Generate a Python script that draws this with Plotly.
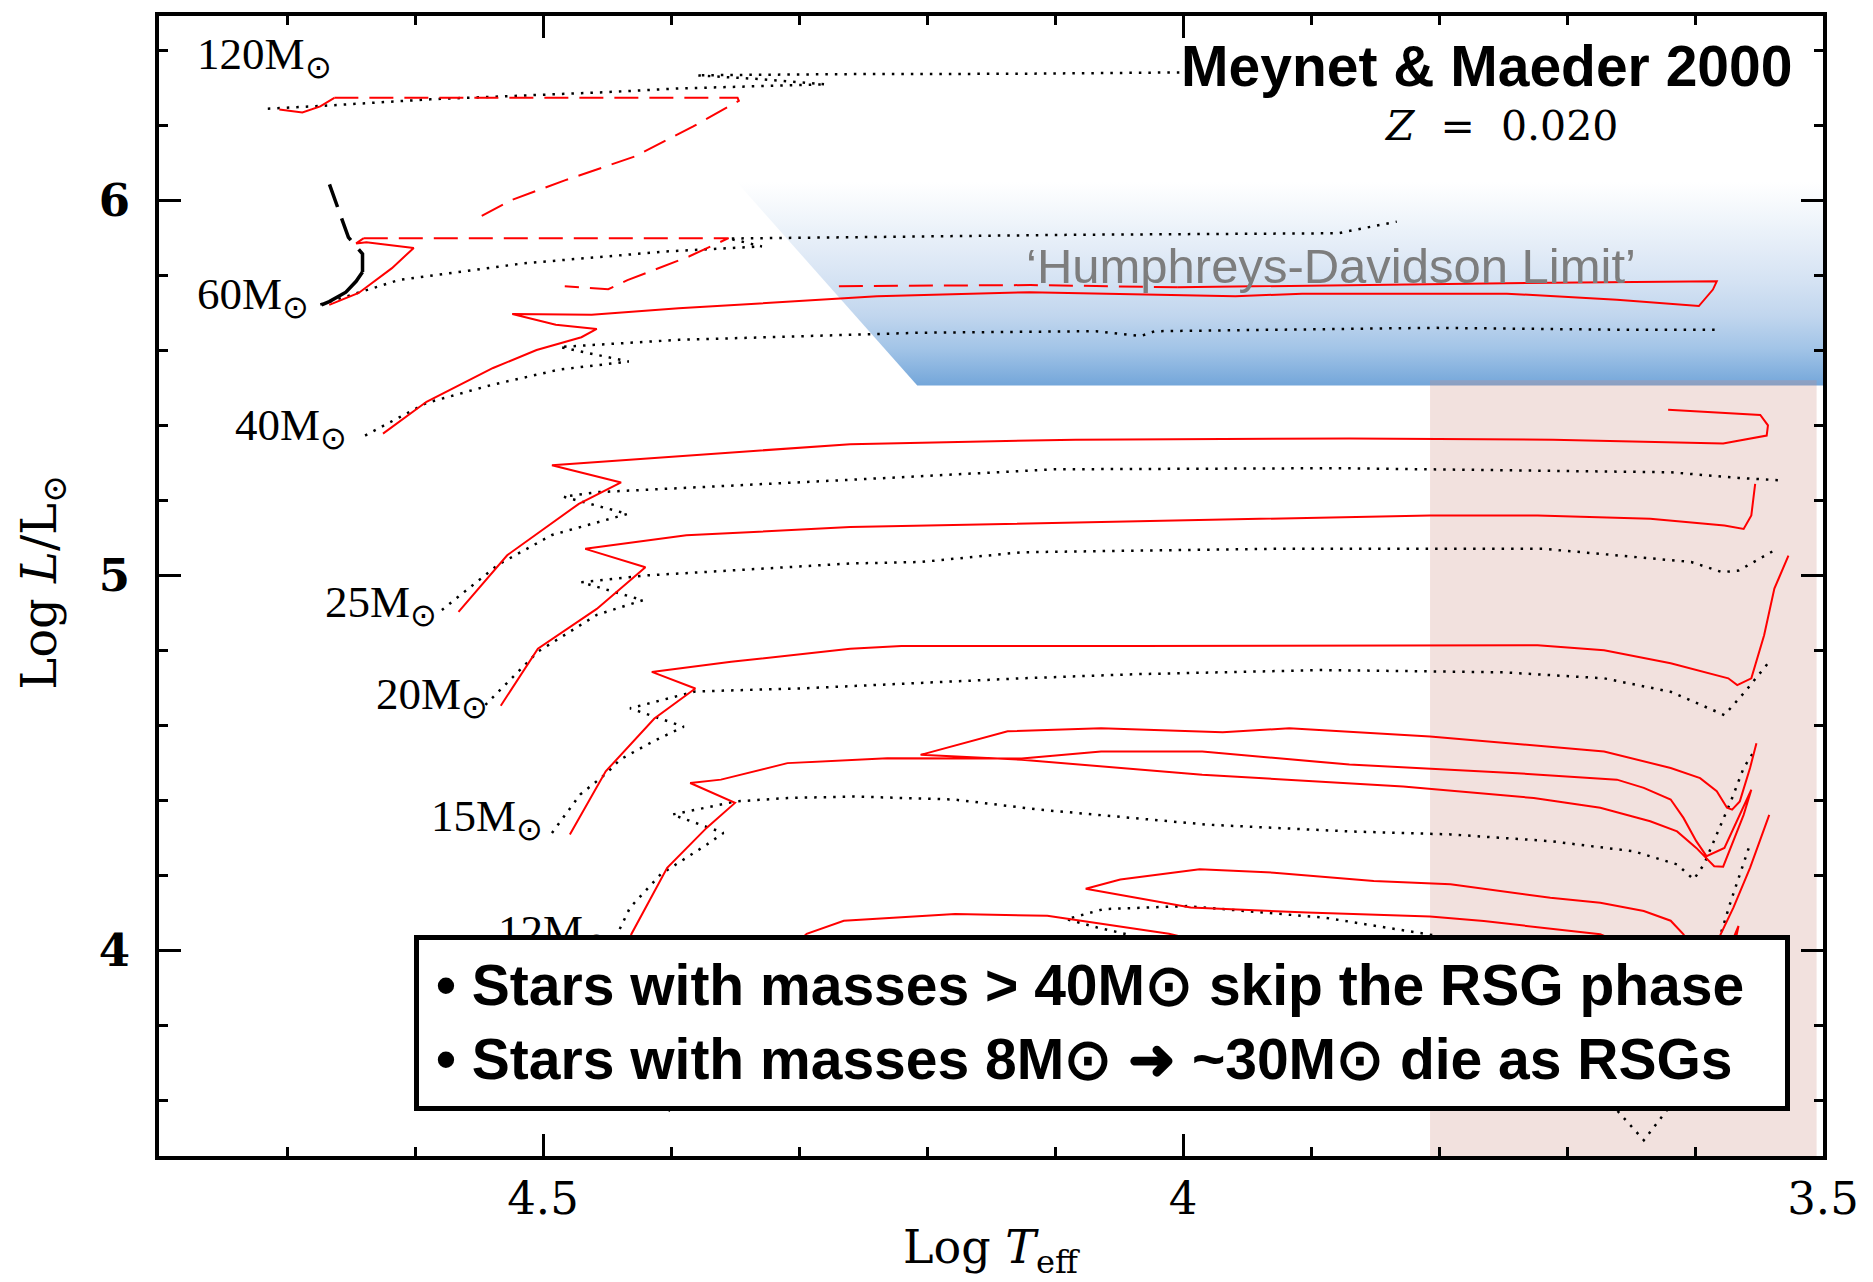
import plotly.graph_objects as go

# ---------------- data (log Teff, log L/Lsun) ----------------
# 120 Msun
t120_rot = [4.706, 4.688, 4.674, 4.663]
l120_rot = [6.242, 6.234, 6.250, 6.273]
t120_rot_wr = [4.663, 4.348, 4.347, 4.383, 4.428, 4.483, 4.525, 4.554]
l120_rot_wr = [6.273, 6.273, 6.265, 6.196, 6.117, 6.053, 6.000, 5.947]
t120_norot = [4.715, 4.665, 4.588, 4.515, 4.451, 4.394, 4.279, 4.327, 4.380, 4.271, 4.131, 3.991]
l120_norot = [6.244, 6.253, 6.269, 6.279, 6.288, 6.298, 6.309, 6.322, 6.333, 6.336, 6.337, 6.341]

# 60 Msun
t60_black = [4.673, 4.667, 4.654, 4.646, 4.641]
l60_black = [5.721, 5.730, 5.755, 5.784, 5.809]
t60_black_wr = [4.641, 4.641, 4.652, 4.658, 4.667]
l60_black_wr = [5.809, 5.857, 5.901, 5.958, 6.044]
t60_rot = [4.667, 4.644, 4.618, 4.601, 4.638, 4.646, 4.640]
l60_rot = [5.721, 5.753, 5.819, 5.873, 5.888, 5.885, 5.899]
t60_rot_wr = [4.640, 4.355, 4.386, 4.434, 4.449, 4.483]
l60_rot_wr = [5.899, 5.899, 5.850, 5.787, 5.763, 5.771]
t60_norot = [4.674, 4.612, 4.515, 4.402, 4.329, 4.355, 4.271, 4.084, 3.879, 3.833]
l60_norot = [5.722, 5.788, 5.832, 5.864, 5.877, 5.898, 5.901, 5.908, 5.912, 5.943]

# 40 Msun
t40_rot = [4.625, 4.591, 4.539, 4.505, 4.470, 4.458, 4.490, 4.524, 4.462, 4.394, 4.239,
           4.120, 3.959, 3.907, 3.747, 3.661, 3.597, 3.586, 3.583, 3.747, 4.004]
l40_rot = [5.378, 5.463, 5.553, 5.601, 5.635, 5.657, 5.668, 5.697, 5.695, 5.712, 5.744,
           5.755, 5.744, 5.751, 5.751, 5.735, 5.718, 5.762, 5.784, 5.779, 5.768]
t40_rot_wr = [4.004, 4.119, 4.274]
l40_rot_wr = [5.768, 5.774, 5.771]
t40_norot = [4.639, 4.591, 4.540, 4.487, 4.433, 4.487, 4.394, 4.205, 4.068, 4.033, 4.022,
             3.804, 3.661, 3.580]
l40_norot = [5.373, 5.460, 5.508, 5.549, 5.570, 5.609, 5.628, 5.647, 5.651, 5.638, 5.651,
             5.660, 5.655, 5.655]

# 25 Msun
t25_rot = [4.566, 4.528, 4.472, 4.439, 4.493, 4.260, 4.084, 3.870, 3.711, 3.578, 3.544,
           3.543, 3.549, 3.621]
l25_rot = [4.903, 5.054, 5.191, 5.248, 5.294, 5.350, 5.362, 5.365, 5.362, 5.352, 5.373,
           5.400, 5.428, 5.442]
t25_norot = [4.579, 4.535, 4.493, 4.434, 4.484, 4.458, 4.260, 4.100, 3.880, 3.734, 3.619,
             3.566, 3.535]
l25_norot = [4.908, 5.029, 5.108, 5.164, 5.210, 5.222, 5.255, 5.283, 5.286, 5.279, 5.275,
             5.260, 5.254]

# 20 Msun
t20_rot = [4.533, 4.504, 4.458, 4.420, 4.467, 4.388, 4.260, 4.037, 3.807, 3.723, 3.635,
           3.577, 3.562, 3.556, 3.553]
l20_rot = [4.653, 4.805, 4.911, 5.022, 5.071, 5.107, 5.129, 5.144, 5.160, 5.160, 5.151,
           5.133, 5.124, 5.160, 5.244]
t20_norot = [4.545, 4.504, 4.458, 4.422, 4.470, 4.420, 4.260, 4.205, 4.126, 3.933, 3.718,
             3.603, 3.579, 3.566, 3.538]
l20_norot = [4.655, 4.797, 4.895, 4.934, 4.982, 5.000, 5.032, 5.036, 5.062, 5.071, 5.071,
             5.036, 5.009, 5.013, 5.067]

# 15 Msun
t15_rot = [4.479, 4.451, 4.413, 4.381, 4.415, 4.353, 4.260, 4.220, 4.037, 3.723, 3.671,
           3.619, 3.574, 3.567, 3.556, 3.546, 3.538, 3.527]
l15_rot = [4.310, 4.478, 4.619, 4.699, 4.743, 4.770, 4.805, 4.812, 4.812, 4.814, 4.801,
           4.766, 4.726, 4.708, 4.726, 4.841, 4.965, 5.053]
t15_norot = [4.493, 4.471, 4.450, 4.440, 4.414, 4.390, 4.432, 4.381, 4.299, 4.126, 4.037,
             3.891, 3.750, 3.671, 3.619, 3.577, 3.561, 3.543]
l15_norot = [4.314, 4.416, 4.474, 4.509, 4.558, 4.597, 4.646, 4.691, 4.699, 4.726, 4.737,
             4.748, 4.742, 4.726, 4.690, 4.628, 4.690, 4.766]

# 12 Msun
t12_rot = [4.435, 4.431, 4.403, 4.372, 4.350, 4.385, 4.361, 4.309, 4.231, 4.126, 4.064,
           3.985, 3.870, 3.739, 3.661, 3.640, 3.619, 3.609, 3.599, 3.591, 3.577, 3.556,
           3.562, 3.570, 3.578, 3.585, 3.599, 3.614, 3.635, 3.674, 3.726, 3.828, 3.985,
           4.126, 4.205, 4.137, 4.064, 3.969, 3.917, 3.807, 3.671, 3.619, 3.596, 3.583,
           3.575, 3.571, 3.565, 3.557, 3.552]
l12_rot = [3.985, 4.044, 4.221, 4.328, 4.394, 4.447, 4.456, 4.500, 4.513, 4.512, 4.531,
           4.531, 4.496, 4.473, 4.456, 4.434, 4.403, 4.354, 4.292, 4.252, 4.274, 4.429,
           4.362, 4.292, 4.224, 4.225, 4.274, 4.318, 4.345, 4.381, 4.407, 4.438, 4.469,
           4.509, 4.522, 4.585, 4.593, 4.582, 4.593, 4.571, 4.531, 4.487, 4.460, 4.425,
           4.381, 4.376, 4.398, 4.487, 4.553]
t12_norot = [4.446, 4.442, 4.432, 4.408, 4.372, 4.359, 4.399, 4.349, 4.309, 4.257, 4.179,
             4.112, 3.981, 3.870, 3.791, 3.713, 3.648, 3.614, 3.601, 3.593, 3.583, 3.572,
             3.562, 3.554]
l12_norot = [3.985, 4.044, 4.115, 4.204, 4.283, 4.314, 4.363, 4.398, 4.407, 4.411, 4.403,
             4.376, 4.336, 4.318, 4.310, 4.292, 4.265, 4.230, 4.190, 4.230, 4.310, 4.398,
             4.487, 4.531]

# 9 Msun
t9_rot = [4.394, 4.364, 4.327, 4.308, 4.294, 4.265, 4.178, 4.106, 4.011, 3.897, 3.758,
          3.636, 3.599, 3.580, 3.572, 3.566, 3.571, 3.599, 3.674, 3.765, 3.807, 3.903,
          3.994, 4.076, 4.049, 3.987, 3.929, 3.851, 3.791, 3.713, 3.674, 3.640, 3.619,
          3.609, 3.594, 3.588, 3.580, 3.570, 3.557, 3.542]
l9_rot = [3.588, 3.763, 3.937, 4.001, 4.045, 4.080, 4.098, 4.093, 4.045, 3.953, 3.890,
          3.842, 3.795, 3.890, 4.017, 4.066, 3.985, 3.937, 4.044, 4.079, 4.091, 4.102,
          4.115, 4.165, 4.190, 4.217, 4.208, 4.186, 4.177, 4.141, 4.128, 4.106, 4.080,
          4.044, 3.953, 3.947, 4.044, 4.115, 4.221, 4.362]
t9_norot = [4.402, 4.364, 4.327, 4.289, 4.178, 3.991, 3.804, 3.661, 3.640, 3.622, 3.599,
            3.590, 3.711, 3.897, 4.028, 4.044, 4.067, 4.091, 4.062, 3.997, 3.889, 3.809,
            3.711, 3.618, 3.590, 3.580, 3.572, 3.558]
l9_norot = [3.572, 3.747, 3.906, 3.947, 3.890, 3.763, 3.668, 3.575, 3.495, 3.575, 3.763,
            3.858, 3.922, 3.985, 4.017, 4.044, 4.062, 4.084, 4.111, 4.119, 4.088, 4.044,
            3.985, 3.937, 3.985, 4.044, 4.132, 4.274]

# mass labels
mass_labels = ["120", "60", "40", "25", "20", "15", "12"]
label_t = [4.772, 4.772, 4.742, 4.672, 4.632, 4.589, 4.537]
label_l = [6.383, 5.741, 5.392, 4.922, 4.675, 4.351, 4.045]

# shaded regions
hd_t = [4.349, 3.49, 3.49, 4.2076]
hd_l = [6.05, 6.05, 5.506, 5.506]
rsg_t = [3.807, 3.505, 3.505, 3.807]
rsg_l = [3.30, 3.30, 5.520, 5.520]

x_ticks = [4.5, 4.0, 3.5]
x_ticktext = ["4.5", "4", "3.5"]
x_minor = [4.8, 4.7, 4.6, 4.4, 4.3, 4.2, 4.1, 3.9, 3.8, 3.7, 3.6]
y_ticks = [4, 5, 6]
y_ticktext = ["4", "5", "6"]
y_minor = [3.6, 3.8, 4.2, 4.4, 4.6, 4.8, 5.2, 5.4, 5.6, 5.8, 6.2, 6.4]

# ---------------- figure ----------------
fig = go.Figure()

fig.add_trace(go.Scatter(
    x=hd_t, y=hd_l, mode="lines", fill="toself", line=dict(width=0),
    fillgradient=dict(type="vertical", start=5.506, stop=6.05,
                      colorscale=[[0.0, "rgb(114,165,217)"], [0.186, "rgb(162,196,231)"],
                                  [0.347, "rgb(193,214,238)"], [0.509, "rgb(212,226,243)"],
                                  [0.673, "rgb(227,236,247)"], [0.835, "rgb(241,246,251)"],
                                  [1.0, "rgb(255,255,255)"]]),
    hoverinfo="skip", showlegend=False))
fig.add_trace(go.Scatter(
    x=rsg_t, y=rsg_l, mode="lines", fill="toself", line=dict(width=0),
    fillcolor="rgba(204,136,124,0.25)", hoverinfo="skip", showlegend=False))

RED = "rgb(255,0,0)"
dotted = dict(color="black", width=2.5, dash="2.5px,7px")
red_solid = dict(color=RED, width=2)
red_dash = dict(color=RED, width=2, dash="24px,11px")


def add(t, l, line):
    fig.add_trace(go.Scatter(x=t, y=l, mode="lines", line=line,
                             hoverinfo="skip", showlegend=False))


# non-rotating (dotted black)
for t, l in [(t120_norot, l120_norot), (t60_norot, l60_norot), (t40_norot, l40_norot),
             (t25_norot, l25_norot), (t20_norot, l20_norot), (t15_norot, l15_norot),
             (t12_norot, l12_norot), (t9_norot, l9_norot)]:
    add(t, l, dotted)

# 60 Msun black
add(t60_black, l60_black, dict(color="black", width=3.5))
add(t60_black_wr, l60_black_wr, dict(color="black", width=3.5, dash="24px,12px"))

# rotating (red)
for t, l in [(t120_rot, l120_rot), (t60_rot, l60_rot), (t40_rot, l40_rot),
             (t25_rot, l25_rot), (t20_rot, l20_rot), (t15_rot, l15_rot),
             (t12_rot, l12_rot), (t9_rot, l9_rot)]:
    add(t, l, red_solid)
for t, l in [(t120_rot_wr, l120_rot_wr), (t60_rot_wr, l60_rot_wr), (t40_rot_wr, l40_rot_wr)]:
    add(t, l, red_dash)

annotations = []
for m, tx, ly in zip(mass_labels, label_t, label_l):
    annotations.append(dict(x=tx, y=ly, xref="x", yref="y", xanchor="left", yanchor="middle",
                            text=m + "M<sub>⊙</sub>", showarrow=False,
                            font=dict(family="Liberation Serif", size=45, color="black")))

annotations.append(dict(x=0.9826, y=0.9563, xref="paper", yref="paper", xanchor="right",
                        yanchor="middle", text="Meynet &amp; Maeder 2000", showarrow=False,
                        font=dict(family="Liberation Sans", size=57, color="black", weight="bold")))
annotations.append(dict(x=0.735, y=0.9034, xref="paper", yref="paper", xanchor="left",
                        yanchor="middle", text="<i>Z</i>  =  0.020", showarrow=False,
                        font=dict(family="DejaVu Serif", size=41, color="black")))
annotations.append(dict(x=0.7043, y=0.781, xref="paper", yref="paper", xanchor="center",
                        yanchor="middle", text="‘Humphreys-Davidson Limit’", showarrow=False,
                        font=dict(family="Liberation Sans", size=49, color="rgb(125,125,125)")))
annotations.append(dict(x=0.5, y=-0.083, xref="paper", yref="paper", xanchor="center",
                        yanchor="middle", text="Log <i>T</i><sub>eff</sub>", showarrow=False,
                        font=dict(family="DejaVu Serif", size=46, color="black")))
annotations.append(dict(x=-0.0705, y=0.5035, xref="paper", yref="paper", xanchor="center",
                        yanchor="middle", text="Log <i>L</i>/L<sub>⊙</sub>", showarrow=False,
                        textangle=-90,
                        font=dict(family="DejaVu Serif", size=48, color="black")))
# box (drawn over the tracks and the 12 Msun label)
annotations.append(dict(x=0.1532, y=0.1941, xref="paper", yref="paper", xanchor="left",
                        yanchor="top", text=" ", showarrow=False, width=1366, height=166,
                        bgcolor="white", bordercolor="black", borderwidth=5, borderpad=0,
                        font=dict(size=10)))
box_font = dict(family="Liberation Sans", size=57, color="black", weight="bold")
annotations.append(dict(x=0.1653, y=0.1496, xref="paper", yref="paper", xanchor="left",
                        yanchor="middle", showarrow=False, font=box_font,
                        text="• Stars with masses &gt; 40M⊙ skip the RSG phase"))
annotations.append(dict(x=0.1653, y=0.0849, xref="paper", yref="paper", xanchor="left",
                        yanchor="middle", showarrow=False, font=box_font,
                        text="• Stars with masses 8M⊙ ➜ ~30M⊙ die as RSGs"))

axis_common = dict(showline=True, linewidth=4, linecolor="black", mirror="allticks",
                   ticks="inside", ticklen=22, tickwidth=3, tickcolor="black",
                   showgrid=False, zeroline=False)
fig.update_xaxes(range=[4.8, 3.5], tickmode="array", tickvals=x_ticks, ticktext=x_ticktext,
                 minor=dict(tickmode="array", tickvals=x_minor, ticks="inside", ticklen=9,
                            tickwidth=3, tickcolor="black", showgrid=False),
                 tickfont=dict(family="DejaVu Serif", size=45, color="black"),
                 ticklabelstandoff=0, **axis_common)
fig.update_yaxes(range=[3.453, 6.491], tickmode="array", tickvals=y_ticks, ticktext=y_ticktext,
                 minor=dict(tickmode="array", tickvals=y_minor, ticks="inside", ticklen=9,
                            tickwidth=3, tickcolor="black", showgrid=False),
                 tickfont=dict(family="DejaVu Serif", size=45, color="black", weight="bold"),
                 ticklabelstandoff=16, **axis_common)

fig.update_layout(width=1873, height=1282, margin=dict(l=159, r=50, t=12, b=126),
                  plot_bgcolor="white", paper_bgcolor="white", showlegend=False,
                  annotations=annotations)

fig.write_html("out.html")
